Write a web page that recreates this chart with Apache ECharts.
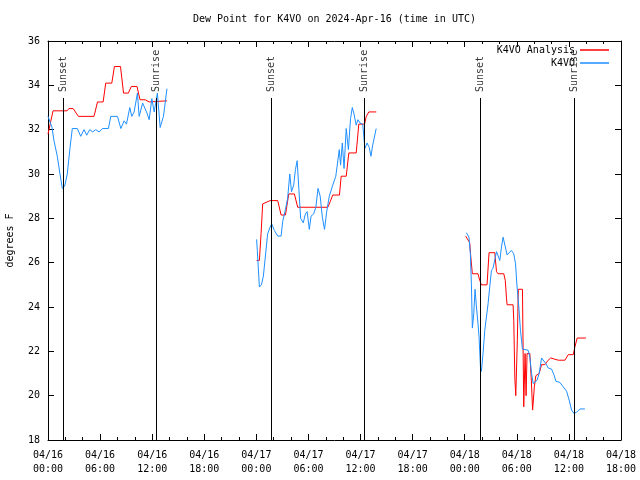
<!DOCTYPE html>
<html>
<head>
<meta charset="utf-8">
<script src="https://cdn.jsdelivr.net/npm/echarts@6/dist/echarts.min.js"></script>
<style>html,body{margin:0;padding:0;background:#fff;}#c{width:640px;height:480px;}</style>
</head>
<body>
<div id="c"></div>
<script>
// hours since 2024-04-16 00:00 UTC
var anaT1 = [0,0.23,0.58,2.2,2.4,2.9,3.5,5.3,5.7,6.35,6.65,7.35,7.65,8.35,8.7,9.25,9.6,10.25,10.6,11.2,11.65,13.7];
var anaV1 = [31.8,31.8,32.85,32.85,32.95,32.95,32.6,32.6,33.25,33.25,34.1,34.1,34.85,34.85,33.65,33.65,33.95,33.95,33.35,33.35,33.25,33.3];
var obsT1 = [0,0.46,0.69,1.07,1.38,1.65,1.92,2.22,2.54,2.8,3.38,3.77,4.15,4.46,4.8,5.15,5.5,5.88,6.27,6.96,7.23,8.0,8.39,8.77,9.04,9.42,9.65,9.92,10.3,10.5,10.9,11.4,11.65,11.96,12.23,12.6,12.92,13.3,13.7];
var obsV1 = [32.6,32.1,31.5,30.8,30.0,29.35,29.45,30.0,31.2,32.05,32.05,31.7,32.0,31.75,32.0,31.9,32.0,31.9,32.05,32.05,32.6,32.6,32.05,32.4,32.25,33.0,32.6,32.8,33.65,32.6,33.2,32.75,32.45,33.4,32.8,33.65,32.1,32.6,33.85];

var anaT2 = [24.03,24.35,24.54,24.73,25.58,26.46,26.85,27.35,27.73,28.38,28.76,32.23,32.5,32.8,33.57,33.77,34.35,34.65,35.5,35.8,36.46,36.66,36.96,37.81];
var anaV2 = [26.1,26.1,27.3,28.65,28.8,28.8,28.15,28.15,29.1,29.1,28.5,28.5,28.75,29.05,29.05,29.9,29.9,30.95,30.95,32.25,32.25,32.6,32.8,32.8];
var obsT2 = [24.03,24.11,24.35,24.58,24.81,25.04,25.3,25.58,25.77,26.08,26.46,26.85,27.03,27.35,27.6,27.85,28.05,28.3,28.5,28.7,28.9,29.1,29.4,29.65,29.85,30.1,30.3,30.6,30.85,31.1,31.35,31.6,31.85,32.1,32.4,32.8,33.15,33.55,33.7,33.9,34.1,34.35,34.6,34.85,35.05,35.25,35.5,35.7,35.95,36.25,36.5,36.75,37.0,37.2,37.4,37.8];
var obsV2 = [27.05,26.55,24.9,25.0,25.4,26.3,27.3,27.6,27.75,27.45,27.2,27.2,27.85,28.4,28.9,30.0,29.2,29.5,30.2,30.6,29.3,28.0,27.8,28.2,28.3,27.5,28.1,28.2,28.5,29.35,29.0,28.05,27.5,28.3,29.0,29.5,29.9,31.1,30.4,31.4,30.25,32.05,31.1,32.5,33.0,32.7,32.2,32.45,32.3,32.25,31.15,31.4,31.2,30.8,31.3,32.05];

var anaT3 = [48.11,48.34,48.57,48.69,48.88,49.53,49.73,49.92,50.57,50.8,51.46,51.66,51.84,52.5,52.67,52.81,52.88,53.57,53.65,53.77,53.88,54.06,54.17,54.65,54.72,54.8,54.95,55.07,55.18,55.5,55.67,55.82,56.02,56.19,56.57,56.85,57.23,57.5,57.89,58.77,59.54,59.92,60.5,60.69,60.95,61.96];
var anaV3 = [27.2,27.2,26.9,26.3,25.5,25.5,25.2,25.0,25.0,26.45,26.45,25.6,25.5,25.5,25.2,24.4,24.1,24.1,23.4,20.8,20.0,22.5,24.8,24.8,22.2,19.5,21.9,20.0,21.9,21.9,20.7,19.35,20.4,20.9,21.0,21.4,21.4,21.55,21.7,21.6,21.6,21.85,21.85,22.2,22.6,22.6];
var obsT3 = [48.19,48.49,48.65,48.77,48.88,49.04,49.19,49.35,49.53,49.65,49.81,49.92,50.11,50.31,50.5,50.69,50.88,51.08,51.26,51.46,51.66,51.84,52.04,52.23,52.42,52.61,52.88,53.11,53.38,53.65,53.85,54.03,54.23,54.42,54.65,55.3,55.5,55.7,55.88,56.08,56.34,56.57,56.85,57.03,57.34,57.61,58.0,58.27,58.5,58.96,59.34,59.73,60.03,60.31,60.57,60.88,61.26,61.84];
var obsV3 = [27.35,27.15,26.4,25.0,23.05,23.7,24.8,24.0,23.25,22.65,21.3,21.1,21.9,22.95,23.55,24.15,24.9,25.65,25.75,25.8,26.5,26.55,26.1,26.7,27.15,27.1,26.35,26.45,26.55,26.4,25.95,24.9,24.0,22.95,22.1,22.05,21.75,21.0,20.55,20.5,20.7,21.0,21.7,21.65,21.45,21.25,21.2,20.95,20.65,20.6,20.4,20.2,19.8,19.35,19.2,19.25,19.4,19.4];

var sunT = [1.72, 12.45, 25.7, 36.45, 49.77, 60.62];
var sunL = ['Sunset','Sunrise','Sunset','Sunrise','Sunset','Sunrise'];
var sunLineTop = 33.43;
var sunLabelBase = 33.7;

var xMin = 0, xMax = 66, xStep = 6;
var yMin = 18, yMax = 36, yStep = 2;

var FONT = 'DejaVu Sans Mono';
var RED = '#ff0000', BLUE = '#1e8fff';

function pairs(t, v) { return t.map(function (x, i) { return [x, v[i]]; }); }
function fmtX(h) {
  var d = 16 + Math.floor(h / 24);
  var hh = h % 24;
  return '04/' + d + '\n' + (hh < 10 ? '0' : '') + hh + ':00';
}

var series = [];
[[anaT1, anaV1], [anaT2, anaV2], [anaT3, anaV3]].forEach(function (s) {
  series.push({ name: 'K4VO Analysis', type: 'line', data: pairs(s[0], s[1]), showSymbol: false, symbol: 'none',
    lineStyle: { color: RED, width: 1 }, itemStyle: { color: RED }, animation: false, z: 3 });
});
[[obsT1, obsV1], [obsT2, obsV2], [obsT3, obsV3]].forEach(function (s) {
  series.push({ name: 'K4VO', type: 'line', data: pairs(s[0], s[1]), showSymbol: false, symbol: 'none',
    lineStyle: { color: BLUE, width: 1 }, itemStyle: { color: BLUE }, animation: false, z: 4 });
});
// sun lines
series.push({
  type: 'line', data: [], animation: false, silent: true,
  markLine: {
    symbol: 'none', silent: true, animation: false,
    lineStyle: { color: '#000', width: 1, type: 'solid' },
    label: { show: false },
    data: sunT.map(function (t) { return [{ coord: [t, yMin] }, { coord: [t, sunLineTop] }]; })
  }
});
// sun labels
series.push({
  type: 'scatter', symbolSize: 0, animation: false, silent: true,
  data: sunT.map(function (t, i) { return { value: [t, sunLabelBase], name: sunL[i] }; }),
  label: { show: true, position: 'inside', rotate: 90, align: 'left', verticalAlign: 'middle',
    formatter: function (p) { return p.name; }, fontFamily: FONT, fontSize: 10, color: '#000' }
});

var chart = echarts.init(document.getElementById('c'), null, { renderer: 'canvas' });
chart.setOption({
  backgroundColor: '#fff',
  animation: false,
  title: { text: 'Dew Point for K4VO on 2024-Apr-16 (time in UTC)', left: 188, top: 9,
    textStyle: { fontFamily: FONT, fontSize: 10, fontWeight: 'normal', color: '#000' } },
  legend: [
    { data: ['K4VO Analysis'], right: 26, top: 40, align: 'right', icon: 'rect', itemWidth: 29, itemHeight: 1.5, itemGap: 0,
      textStyle: { fontFamily: FONT, fontSize: 10, color: '#000' }, selectedMode: false },
    { data: ['K4VO'], right: 26, top: 53, align: 'right', icon: 'rect', itemWidth: 29, itemHeight: 1.5, itemGap: 0,
      textStyle: { fontFamily: FONT, fontSize: 10, color: '#000' }, selectedMode: false }
  ],
  grid: { left: 48, right: 19, top: 41, bottom: 40, containLabel: false, outerBoundsMode: 'none' },
  xAxis: [
    { type: 'value', min: xMin, max: xMax, interval: xStep, position: 'bottom',
      axisLine: { show: true, onZero: false, lineStyle: { color: '#000', width: 1 } },
      axisTick: { show: true, inside: true, length: 6, lineStyle: { color: '#000' } },
      minorTick: { show: true, splitNumber: 3, length: 3, lineStyle: { color: '#000' } },
      splitLine: { show: false },
      axisLabel: { formatter: fmtX, fontFamily: FONT, fontSize: 10, color: '#000', margin: 8, lineHeight: 14 } },
    { type: 'value', min: xMin, max: xMax, interval: xStep, position: 'top',
      axisLine: { show: true, onZero: false, lineStyle: { color: '#000', width: 1 } },
      axisTick: { show: true, inside: true, length: 6, lineStyle: { color: '#000' } },
      minorTick: { show: true, splitNumber: 3, length: 3, lineStyle: { color: '#000' } },
      splitLine: { show: false }, axisLabel: { show: false } }
  ],
  yAxis: [
    { type: 'value', min: yMin, max: yMax, interval: yStep, position: 'left',
      name: 'degrees F', nameLocation: 'middle', nameGap: 33, nameRotate: 90,
      nameTextStyle: { fontFamily: FONT, fontSize: 10, color: '#000' },
      axisLine: { show: true, onZero: false, lineStyle: { color: '#000', width: 1 } },
      axisTick: { show: true, inside: true, length: 6, lineStyle: { color: '#000' } },
      splitLine: { show: false },
      axisLabel: { fontFamily: FONT, fontSize: 10, color: '#000', margin: 8 } },
    { type: 'value', min: yMin, max: yMax, interval: yStep, position: 'right',
      axisLine: { show: true, onZero: false, lineStyle: { color: '#000', width: 1 } },
      axisTick: { show: true, inside: true, length: 6, lineStyle: { color: '#000' } },
      splitLine: { show: false }, axisLabel: { show: false } }
  ],
  series: series
});
</script>
</body>
</html>
